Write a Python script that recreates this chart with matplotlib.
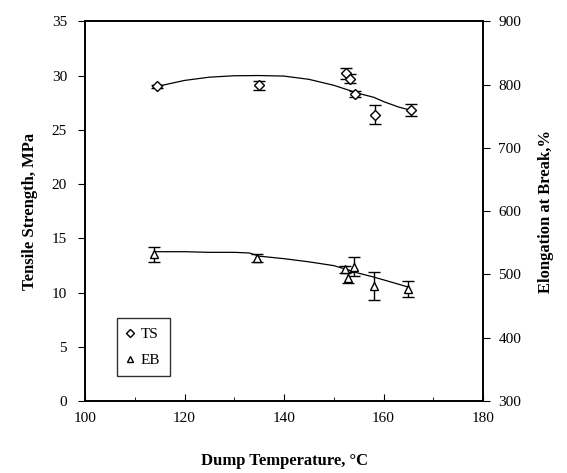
import numpy as np
import matplotlib.pyplot as plt
from matplotlib.ticker import MultipleLocator
from matplotlib.lines import Line2D

plt.rcParams['font.family'] = ['Liberation Serif', 'DejaVu Serif']

# Tensile strength (left axis, MPa)
ts_temp = [114.5, 135, 152.5, 153.3, 154.2, 158.3, 165.5]
ts_val = [29.0, 29.1, 30.2, 29.7, 28.3, 26.4, 26.8]
ts_err = [0.15, 0.4, 0.5, 0.4, 0.3, 0.9, 0.55]
ts_fit_x = [114.5, 120, 125, 130, 135, 140, 145, 150, 153, 155, 158, 160, 163, 165.5]
ts_fit_y = [29.0, 29.55, 29.85, 29.98, 30.0, 29.95, 29.65, 29.1, 28.65, 28.35, 28.0, 27.6, 27.1, 26.8]

# Elongation at break (right axis, %)
eb_temp = [113.8, 134.5, 152.3, 152.8, 154.0, 158.0, 165.0]
eb_val = [532, 526, 508, 495, 512, 482, 477]
eb_err = [12, 7, 6, 9, 15, 22, 12]
eb_fit_x = [114, 120, 125, 130, 133, 135, 140, 145, 150, 153, 155, 158, 162, 165]
eb_fit_y = [536, 536, 535, 535, 534, 529, 525, 520, 514, 507, 502, 496, 487, 480]

fig = plt.figure(figsize=(5.67, 4.73), dpi=100)
ax = fig.add_axes([0.150, 0.152, 0.702, 0.803])
ax2 = ax.twinx()

ax.plot(ts_fit_x, ts_fit_y, '-', color='black', lw=0.9)
ax.errorbar(ts_temp, ts_val, yerr=ts_err, fmt='D', ms=5, mfc='white', mec='black',
            mew=1.0, ecolor='black', elinewidth=1.0, capsize=4, capthick=1.0)

ax2.plot(eb_fit_x, eb_fit_y, '-', color='black', lw=0.9)
ax2.errorbar(eb_temp, eb_val, yerr=eb_err, fmt='^', ms=6, mfc='white', mec='black',
             mew=1.0, ecolor='black', elinewidth=1.0, capsize=4, capthick=1.0)

ax.set_xlim(100, 180)
ax.set_ylim(0, 35)
ax2.set_ylim(300, 900)
ax.xaxis.set_major_locator(MultipleLocator(20))
ax.xaxis.set_minor_locator(MultipleLocator(10))
ax.yaxis.set_major_locator(MultipleLocator(5))
ax2.yaxis.set_major_locator(MultipleLocator(100))

ax.tick_params(axis='x', which='both', direction='in', labelsize=11, pad=8)
ax.tick_params(axis='x', which='major', length=5)
ax.tick_params(axis='x', which='minor', length=3)
ax.tick_params(axis='y', direction='out', labelsize=11, length=5, pad=8)
ax2.tick_params(axis='y', direction='out', labelsize=11, length=5, pad=6)

for a in (ax, ax2):
    for s in a.spines.values():
        s.set_linewidth(1.2)

ax.set_xlabel('Dump Temperature, °C', fontsize=12, fontweight='bold', labelpad=20)
ax.set_ylabel('Tensile Strength, MPa', fontsize=12, fontweight='bold', labelpad=10)
ax2.set_ylabel('Elongation at Break,%', fontsize=12, fontweight='bold', labelpad=12)

handles = [Line2D([], [], ls='none', marker='D', ms=4, mfc='white', mec='black', mew=1.0),
           Line2D([], [], ls='none', marker='^', ms=5, mfc='white', mec='black', mew=1.0)]
leg = ax2.legend(handles, ['TS', 'EB'], loc='lower left', bbox_to_anchor=(0.06, 0.045),
                 fontsize=11, frameon=True, fancybox=False, edgecolor='black',
                 handlelength=0.6, handletextpad=0.4, borderpad=0.6, labelspacing=0.8)
leg.get_frame().set_linewidth(1.0)

plt.savefig('out.png', dpi=100)
